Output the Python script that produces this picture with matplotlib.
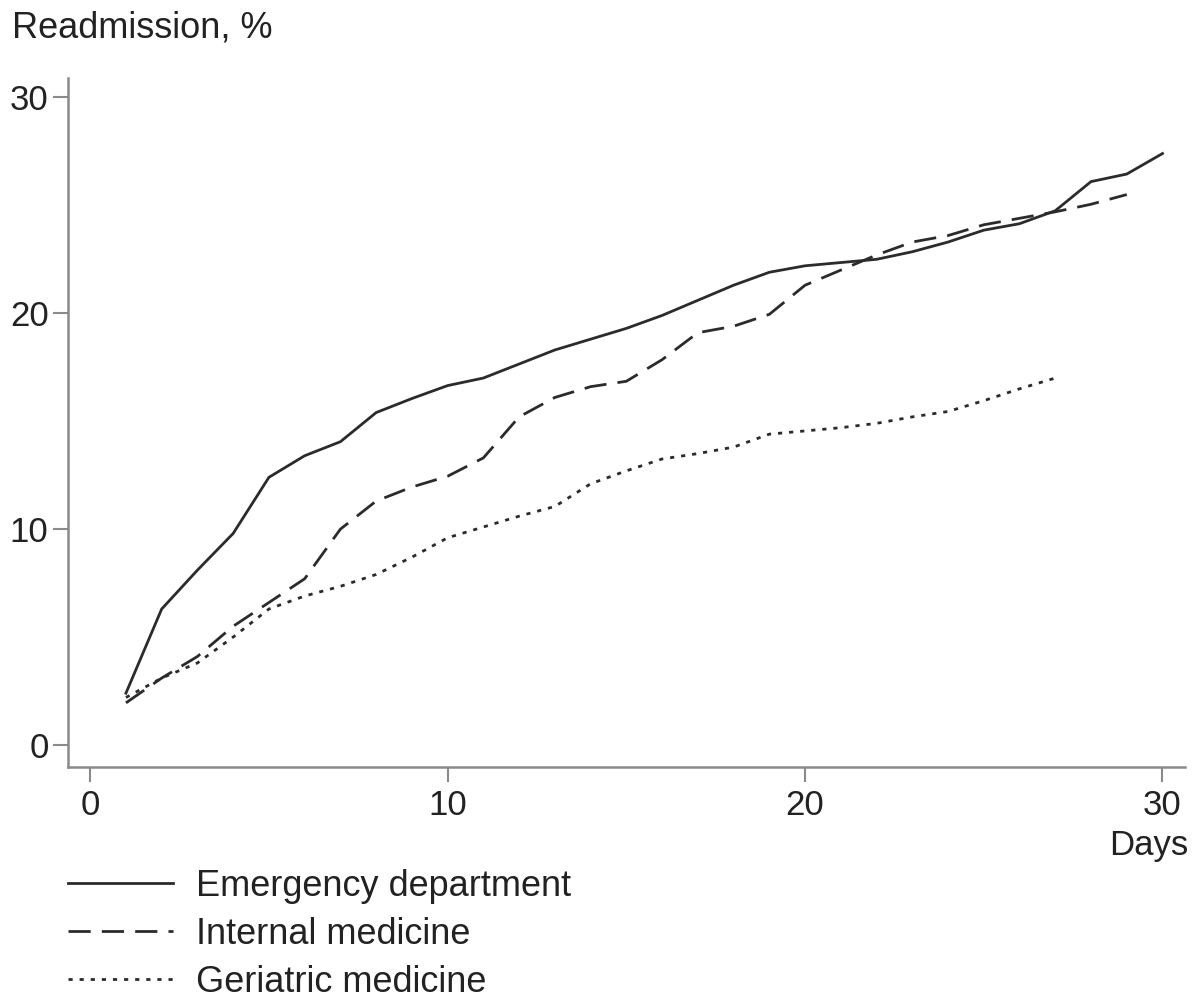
import matplotlib.pyplot as plt
from matplotlib.lines import Line2D

plt.rcParams['font.family'] = ['Liberation Sans', 'DejaVu Sans']

days_ed = list(range(1, 31))
emergency = [2.4, 6.3, 8.1, 9.8, 12.4, 13.4, 14.05, 15.4, 16.05, 16.65,
             17.0, 17.65, 18.3, 18.8, 19.3, 19.9, 20.6, 21.3, 21.9, 22.2,
             22.35, 22.5, 22.85, 23.3, 23.85, 24.15, 24.75, 26.1, 26.45, 27.4]

days_im = list(range(1, 30))
internal = [1.95, 3.1, 4.1, 5.5, 6.6, 7.7, 10.0, 11.3, 11.95, 12.45,
            13.3, 15.2, 16.1, 16.6, 16.85, 17.85, 19.1, 19.4, 19.95, 21.3,
            22.0, 22.7, 23.3, 23.6, 24.1, 24.4, 24.7, 25.05, 25.5]

days_gm = list(range(1, 28))
geriatric = [2.2, 3.1, 3.8, 5.0, 6.3, 6.9, 7.35, 7.9, 8.7, 9.6,
             10.1, 10.6, 11.05, 12.1, 12.7, 13.25, 13.5, 13.8, 14.4, 14.55,
             14.7, 14.9, 15.2, 15.45, 15.95, 16.5, 17.0]

labels = ['Emergency department', 'Internal medicine', 'Geriatric medicine']

line_col = '#2b2b2b'
axis_col = '#8a8a8a'

fig = plt.figure(figsize=(12, 10), dpi=100)
ax = fig.add_axes([0.0567, 0.233, 0.9308, 0.689])

ax.plot(days_ed, emergency, color=line_col, lw=2.0, solid_joinstyle='miter')
ax.plot(days_im, internal, color=line_col, lw=2.0, dashes=(8, 4))
ax.plot(days_gm, geriatric, color=line_col, lw=2.0, dashes=(1.5, 2.5))

ax.set_xlim(-0.62, 30.63)
ax.set_ylim(-1.02, 30.9)
ax.set_xticks([0, 10, 20, 30])
ax.set_yticks([0, 10, 20, 30])

for s in ['top', 'right']:
    ax.spines[s].set_visible(False)
for s in ['left', 'bottom']:
    ax.spines[s].set_color(axis_col)
    ax.spines[s].set_linewidth(1.8)

ax.tick_params(axis='both', colors=axis_col, width=1.5, length=11,
               labelsize=25, labelcolor='#222222')
ax.tick_params(axis='x', pad=5)
ax.tick_params(axis='y', pad=3)

fig.text(0.01, 0.972, 'Readmission, %', fontsize=26, color='#222222',
         ha='left', va='center')
fig.text(0.99, 0.155, 'Days', fontsize=25, color='#222222',
         ha='right', va='center')

handles = [Line2D([], [], color=line_col, lw=2.0),
           Line2D([], [], color=line_col, lw=2.0, dashes=(8, 4)),
           Line2D([], [], color=line_col, lw=2.0, dashes=(1.5, 2.5))]
fig.legend(handles, labels, loc='upper left', bbox_to_anchor=(0.0567, 0.131),
           frameon=False, fontsize=26, handlelength=2.9, handletextpad=0.65,
           labelspacing=0.36, borderaxespad=0, borderpad=0,
           labelcolor='#222222')

fig.savefig('out.png', dpi=100)
